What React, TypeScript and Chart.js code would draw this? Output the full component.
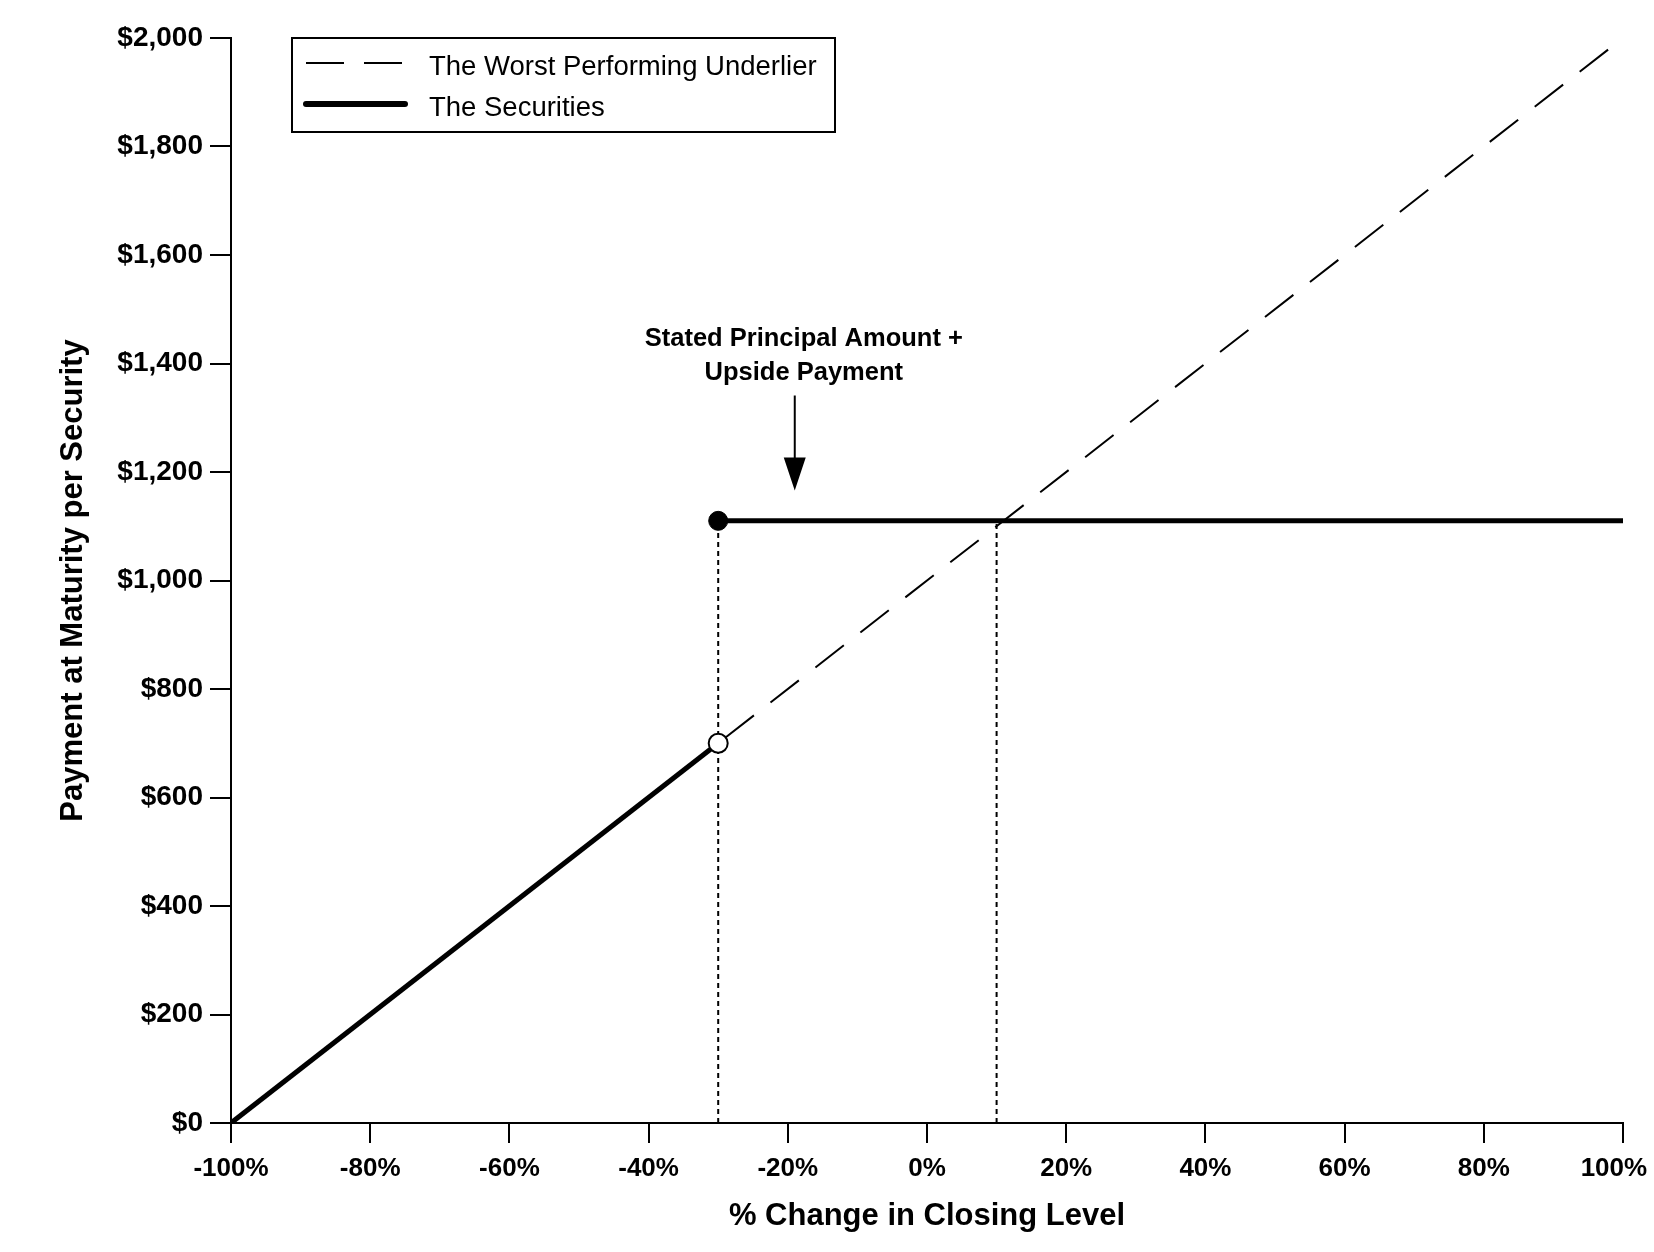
import React, { useEffect, useRef } from 'react';
import { Chart, ChartConfiguration, Plugin, registerables } from 'chart.js';

Chart.register(...registerables);

// % change in closing level vs. payment at maturity
const underlierX = [-100, 100];
const underlierY = [0, 2000];
const securitiesLowX = [-100, -30];
const securitiesLowY = [0, 700];
const securitiesHighX = [-30, 100];
const securitiesHighY = [1110, 1110];
const triggerGuideX = [-30, -30];
const triggerGuideY = [0, 1110];
const capGuideX = [10, 10];
const capGuideY = [0, 1110];

const legendLabels = ['The Worst Performing Underlier', 'The Securities'];
const annotationLines = ['Stated Principal Amount +', 'Upside Payment'];
const annotationX = -17.7;
const annotationY = [1446, 1383];
const arrowX = -19;
const arrowY = [1341, 1166];

const FONT = '"Liberation Sans", Arial, Helvetica, sans-serif';

const toPoints = (xs: number[], ys: number[]) => xs.map((x, i) => ({ x, y: ys[i] }));

const extrasPlugin: Plugin = {
  id: 'payoffExtras',
  afterDraw(chart) {
    const { ctx, chartArea } = chart;
    const xs = chart.scales.x;
    const ys = chart.scales.y;
    ctx.save();

    // legend box
    const bx = chartArea.left + 61;
    const by = chartArea.top;
    const bw = 543;
    const bh = 94;
    ctx.fillStyle = '#fff';
    ctx.fillRect(bx, by, bw, bh);
    ctx.strokeStyle = '#000';
    ctx.lineWidth = 2;
    ctx.strokeRect(bx, by, bw, bh);

    const samples = [
      { dash: [38, 20], width: 2, cap: 'butt' as CanvasLineCap },
      { dash: [] as number[], width: 6, cap: 'round' as CanvasLineCap },
    ];
    const rowY = [by + 25, by + 66];
    ctx.font = `27.5px ${FONT}`;
    ctx.textBaseline = 'middle';
    ctx.textAlign = 'left';
    legendLabels.forEach((label, i) => {
      const s = samples[i];
      ctx.beginPath();
      ctx.setLineDash(s.dash);
      ctx.lineWidth = s.width;
      ctx.lineCap = s.cap;
      ctx.moveTo(bx + 14, rowY[i]);
      ctx.lineTo(bx + 113, rowY[i]);
      ctx.stroke();
      ctx.setLineDash([]);
      ctx.fillStyle = '#000';
      ctx.fillText(label, bx + 137, rowY[i] + 4);
    });

    // annotation with arrow
    ctx.font = `bold 25.5px ${FONT}`;
    ctx.textAlign = 'center';
    annotationLines.forEach((line, i) => {
      ctx.fillText(line, xs.getPixelForValue(annotationX), ys.getPixelForValue(annotationY[i]));
    });
    const ax = xs.getPixelForValue(arrowX);
    const top = ys.getPixelForValue(arrowY[0]);
    const tip = ys.getPixelForValue(arrowY[1]);
    ctx.lineCap = 'butt';
    ctx.lineWidth = 2;
    ctx.beginPath();
    ctx.moveTo(ax, top);
    ctx.lineTo(ax, tip - 30);
    ctx.stroke();
    ctx.beginPath();
    ctx.moveTo(ax - 11, tip - 33);
    ctx.lineTo(ax + 11, tip - 33);
    ctx.lineTo(ax, tip);
    ctx.closePath();
    ctx.fill();

    ctx.restore();
  },
};

export default function App() {
  const canvasRef = useRef<HTMLCanvasElement>(null);

  useEffect(() => {
    document.body.style.margin = '0';
    if (!canvasRef.current) return;
    const ctx = canvasRef.current.getContext('2d');
    if (!ctx) return;

    const config: ChartConfiguration<'line'> = {
      type: 'line',
      data: {
        datasets: [
          {
            label: 'The Securities',
            data: toPoints(securitiesLowX, securitiesLowY),
            borderColor: '#000',
            borderWidth: 5,
            pointRadius: [0, 9.5],
            pointBackgroundColor: '#fff',
            pointBorderColor: '#000',
            pointBorderWidth: 2,
          },
          {
            label: 'The Securities (capped)',
            data: toPoints(securitiesHighX, securitiesHighY),
            borderColor: '#000',
            borderWidth: 5,
            pointRadius: [9.5, 0],
            pointBackgroundColor: '#000',
            pointBorderColor: '#000',
            pointBorderWidth: 1,
          },
          {
            label: 'The Worst Performing Underlier',
            data: toPoints(underlierX, underlierY),
            borderColor: '#000',
            borderWidth: 2,
            borderDash: [36, 21],
            pointRadius: 0,
          },
          {
            label: 'trigger',
            data: toPoints(triggerGuideX, triggerGuideY),
            borderColor: '#000',
            borderWidth: 2,
            borderDash: [5, 4],
            pointRadius: 0,
          },
          {
            label: 'cap',
            data: toPoints(capGuideX, capGuideY),
            borderColor: '#000',
            borderWidth: 2,
            borderDash: [5, 4],
            pointRadius: 0,
          },
        ],
      },
      options: {
        animation: false,
        responsive: true,
        maintainAspectRatio: false,
        devicePixelRatio: 1,
        layout: { padding: { top: 38, right: 31, left: 0, bottom: 0 } },
        plugins: {
          legend: { display: false },
          tooltip: { enabled: false },
        },
        scales: {
          x: {
            type: 'linear',
            min: -100,
            max: 100,
            border: { display: true, color: '#000', width: 2 },
            grid: { drawOnChartArea: false, drawTicks: true, tickLength: 20, color: '#000', lineWidth: 2 },
            ticks: {
              stepSize: 20,
              padding: 10,
              color: '#000',
              maxRotation: 0,
              font: { family: FONT, size: 26, weight: 'bold' },
              // last label is nudged left (trailing spaces) so it stays inside the page
              callback: (v) => (Number(v) === 100 ? `${v}%\u2002\u2009` : `${v}%`),
            },
            title: {
              display: true,
              text: '% Change in Closing Level',
              color: '#000',
              font: { family: FONT, size: 31, weight: 'bold' },
              padding: { top: 0, bottom: 17 },
            },
            afterFit: (scale) => {
              scale.height = 129;
              scale.paddingRight = 0;
            },
          },
          y: {
            type: 'linear',
            min: 0,
            max: 2000,
            border: { display: true, color: '#000', width: 2 },
            grid: { drawOnChartArea: false, drawTicks: true, tickLength: 21, color: '#000', lineWidth: 2 },
            ticks: {
              stepSize: 200,
              padding: 7,
              color: '#000',
              font: { family: FONT, size: 28, weight: 'bold' },
              callback: (v) => '$' + Number(v).toLocaleString('en-US'),
            },
            title: {
              display: true,
              text: 'Payment at Maturity per Security',
              color: '#000',
              font: { family: FONT, size: 31, weight: 'bold' },
              padding: { top: 55, bottom: 0 },
            },
            afterFit: (scale) => {
              scale.width = 231;
            },
          },
        },
      },
      plugins: [extrasPlugin],
    };

    const chart = new Chart(ctx, config);
    return () => {
      chart.destroy();
    };
  }, []);

  return (
    <div style={{ width: '1654px', height: '1252px', overflow: 'hidden', background: '#fff' }}>
      <canvas ref={canvasRef}></canvas>
    </div>
  );
}
